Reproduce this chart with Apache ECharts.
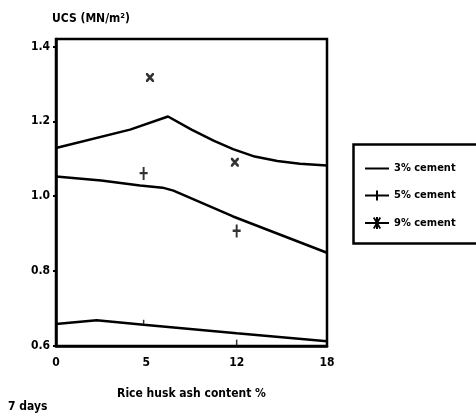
<!DOCTYPE html>
<html>
<head>
<meta charset="utf-8">
<script src="https://cdn.jsdelivr.net/npm/echarts@6/dist/echarts.min.js"></script>
<style>html,body{margin:0;padding:0;background:#fff}#c{width:476px;height:420px}</style>
</head>
<body>
<div id="c"></div>
<script>
// x positions are in tick-index units (0..3) matching the labels below
var xTickLabels = ['0', '5', '12', '18'];
var cement3 = [[0, 0.659], [0.45, 0.669], [0.97, 0.657], [2.0, 0.634], [3, 0.613]];
var cement5 = [[0, 1.053], [0.5, 1.042], [0.93, 1.029], [1.18, 1.023], [1.3, 1.015], [1.96, 0.946], [3, 0.849]];
var cement9 = [[0, 1.129], [0.82, 1.178], [1.24, 1.213], [1.5, 1.178], [1.75, 1.148], [1.96, 1.126], [2.2, 1.106], [2.45, 1.094], [2.7, 1.087], [3, 1.082]];
var points3 = [[0.97, 0.662], [2.0, 0.609]];
var points5 = [[0.97, 1.061], [2.0, 0.907]];
var points9 = [[1.04, 1.317], [1.98, 1.091]];
var seriesNames = ['3% cement', '5% cement', '9% cement'];

var FONT = "'Liberation Sans Narrow', 'DejaVu Sans Condensed', 'Liberation Sans', sans-serif";
var plusPath = 'path://M3.8,0 L6.2,0 L6.2,5 L10,5 L10,7.4 L6.2,7.4 L6.2,13 L3.8,13 L3.8,7.4 L0,7.4 L0,5 L3.8,5 Z';
var xPath = 'path://M0,0 L2.2,0 L10,7.8 L10,10 L7.8,10 L0,2.2 Z M7.8,0 L10,0 L10,2.2 L2.2,10 L0,10 L0,7.8 Z';
var legendLine = 'path://M0,9 L24,9 L24,11 L0,11 Z';
var legendPlus = 'path://M0,9 L24,9 L24,11 L0,11 Z M11,5 L13,5 L13,15 L11,15 Z';
var legendStar = 'path://M0,9 L24,9 L24,11 L0,11 Z M11,4 L13,4 L13,16 L11,16 Z M8,5 L9.5,4 L16,15 L14.5,16 Z M14.5,4 L16,5 L9.5,16 L8,15 Z';

var chart = echarts.init(document.getElementById('c'));
chart.setOption({
  animation: false,
  backgroundColor: '#fff',
  textStyle: { fontFamily: FONT },
  grid: { left: 56, top: 39, right: 149, bottom: 74, show: true, borderColor: '#000', borderWidth: 2.5, backgroundColor: 'transparent' },
  xAxis: {
    type: 'value', min: 0, max: 3, interval: 1,
    name: 'Rice husk ash content %', nameLocation: 'middle', nameGap: 42,
    nameTextStyle: { color: '#000', fontSize: 12, fontWeight: 'bold', fontFamily: FONT },
    axisLine: { lineStyle: { color: '#000', width: 2.5 } },
    axisTick: { show: false },
    splitLine: { show: false },
    axisLabel: { color: '#000', fontSize: 12, fontWeight: 'bold', fontFamily: FONT, margin: 11,
      formatter: function (v) { return xTickLabels[Math.round(v)]; } }
  },
  yAxis: {
    type: 'value', min: 0.6, max: 1.42, interval: 0.2,
    name: 'UCS (MN/m²)', nameLocation: 'end', nameGap: 14,
    nameTextStyle: { color: '#000', fontSize: 12, fontWeight: 'bold', fontFamily: FONT, align: 'left', padding: [0, 0, 0, -4] },
    axisLine: { lineStyle: { color: '#000', width: 2.5 } },
    axisTick: { show: true, length: 3, lineStyle: { color: '#000', width: 2 } },
    splitLine: { show: false },
    axisLabel: { color: '#000', fontSize: 12, fontWeight: 'bold', fontFamily: FONT, margin: 6, showMaxLabel: false,
      formatter: function (v) { return v.toFixed(1); } }
  },
  legend: {
    orient: 'vertical', left: 360, top: 158, itemWidth: 24, itemHeight: 20, itemGap: 16,
    textStyle: { color: '#000', fontSize: 11, fontWeight: 'bold', fontFamily: FONT },
    data: [
      { name: seriesNames[0], icon: legendLine },
      { name: seriesNames[1], icon: legendPlus },
      { name: seriesNames[2], icon: legendStar }
    ]
  },
  graphic: [
    { type: 'rect', left: 351, top: 142, shape: { width: 140, height: 99 }, style: { fill: 'none', stroke: '#000', lineWidth: 2.5 } },
    { type: 'text', left: 8, top: 401, style: { text: '7 days', fill: '#000', font: 'bold 12px ' + FONT } }
  ],
  series: [
    { name: seriesNames[0], type: 'line', data: cement3, smooth: false, showSymbol: false, symbol: 'none',
      lineStyle: { color: '#000', width: 2.5 }, itemStyle: { color: '#000' } },
    { name: seriesNames[1], type: 'line', data: cement5, smooth: false, showSymbol: false, symbol: 'none',
      lineStyle: { color: '#000', width: 2.5 }, itemStyle: { color: '#000' } },
    { name: seriesNames[2], type: 'line', data: cement9, smooth: false, showSymbol: false, symbol: 'none',
      lineStyle: { color: '#000', width: 2.5 }, itemStyle: { color: '#000' } },
    { name: seriesNames[0] + ' data', type: 'scatter', data: points3, symbol: 'rect', symbolSize: [1.5, 6], itemStyle: { color: '#000' } },
    { name: seriesNames[1] + ' data', type: 'scatter', data: points5, symbol: plusPath, symbolSize: [8, 13], itemStyle: { color: '#000' } },
    { name: seriesNames[2] + ' data', type: 'scatter', data: points9, symbol: xPath, symbolSize: [8, 9], itemStyle: { color: '#000' } }
  ]
});
</script>
</body>
</html>
